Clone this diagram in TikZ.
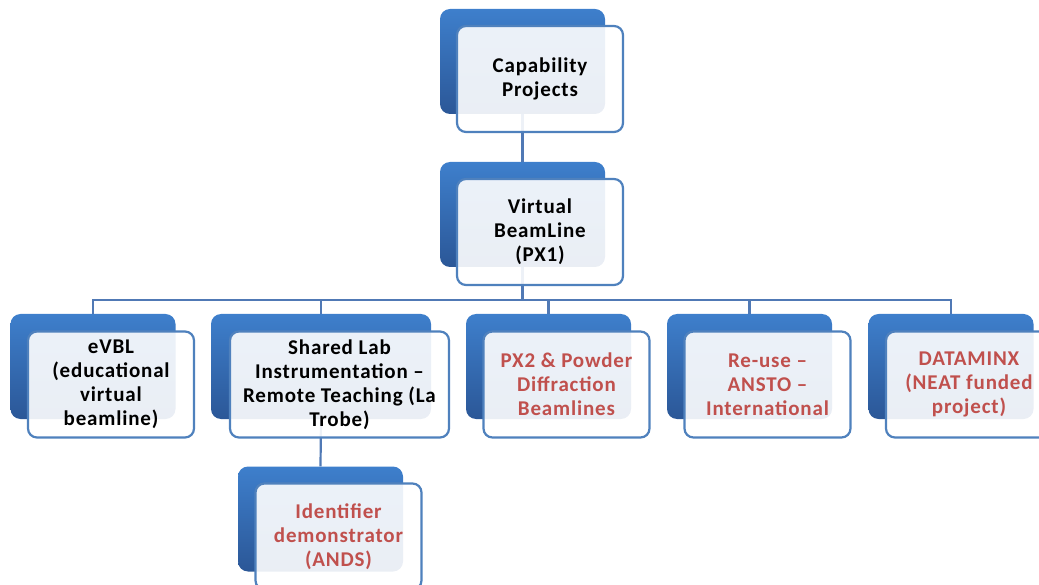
\documentclass[tikz,border=0pt]{standalone}
\usepackage{fontspec}
\setmainfont{Carlito}
\newfontfamily\boxfont{Carlito}[LetterSpace=4]
\definecolor{bktop}{HTML}{3E7FCC}
\definecolor{bkbot}{HTML}{2B5797}
\definecolor{frborder}{HTML}{4F81BD}
\definecolor{lnc}{HTML}{5079B5}
\definecolor{redtxt}{HTML}{C0504D}
\begin{document}
\begin{tikzpicture}[x=1pt,y=-1pt,
  backbox/.style={draw=none, rounded corners=10pt, top color=bktop, bottom color=bkbot,
    minimum width=165pt, minimum height=105pt, inner sep=0pt},
  frontbox/.style={draw=frborder, line width=2.2pt, rounded corners=9pt, fill=white,
    fill opacity=0.9, text opacity=1, minimum width=166pt, minimum height=106pt,
    align=center, font=\boxfont\fontsize{21}{24}\selectfont\bfseries, inner sep=2pt},
  redtext/.style={text=redtxt},
  link/.style={draw=lnc, line width=2.2pt}]
\useasboundingbox (0,0) rectangle (1039,585);
% back boxes
\node[backbox] (b0) at (522.5,61.5) {};
\node[backbox] (b1) at (522.5,214.5) {};
\node[backbox] (b2) at (93,366.5) {};
\node[backbox, minimum width=220pt] (b3) at (321,366.5) {};
\node[backbox] (b4) at (548.5,366.5) {};
\node[backbox] (b5) at (749.5,366.5) {};
\node[backbox] (b6) at (951,366.5) {};
\node[backbox] (b7) at (320.5,519) {};
% connectors
\coordinate (bus) at (522.5,300);
\draw[link] (b0.south) -- (b1.north);
\draw[link] (b1.south) -- (bus);
\draw[link] (bus) -| (b2.north);
\draw[link] (bus) -| (b3.north);
\draw[link] (bus) -| (b4.north);
\draw[link] (bus) -| (b5.north);
\draw[link] (bus) -| (b6.north);
\draw[link] (b3.south) -- (b7.north);
% front boxes
\node[frontbox] (f0) at (540,79) {Capability\\Projects};
\node[frontbox] (f1) at (540,232) {Virtual\\BeamLine\\(PX1)};
\node[frontbox] (f2) at (111,384.5) {eVBL\\(educational\\virtual\\beamline)};
\node[frontbox, minimum width=219pt] (f3) at (339.5,384.5) {Shared Lab\\Instrumentation –\\Remote Teaching (La\\Trobe)};
\node[frontbox, redtext] (f4) at (566.5,384.5) {PX2 \& Powder\\Diffraction\\Beamlines};
\node[frontbox, redtext] (f5) at (767.5,384.5) {Re-use –\\ANSTO –\\International};
\node[frontbox, redtext] (f6) at (969,384.5) {DATAMINX\\(NEAT funded\\project)};
\node[frontbox, redtext] (f7) at (338.5,536.5) {Identifier\\demonstrator\\(ANDS)};
\end{tikzpicture}
\end{document}
